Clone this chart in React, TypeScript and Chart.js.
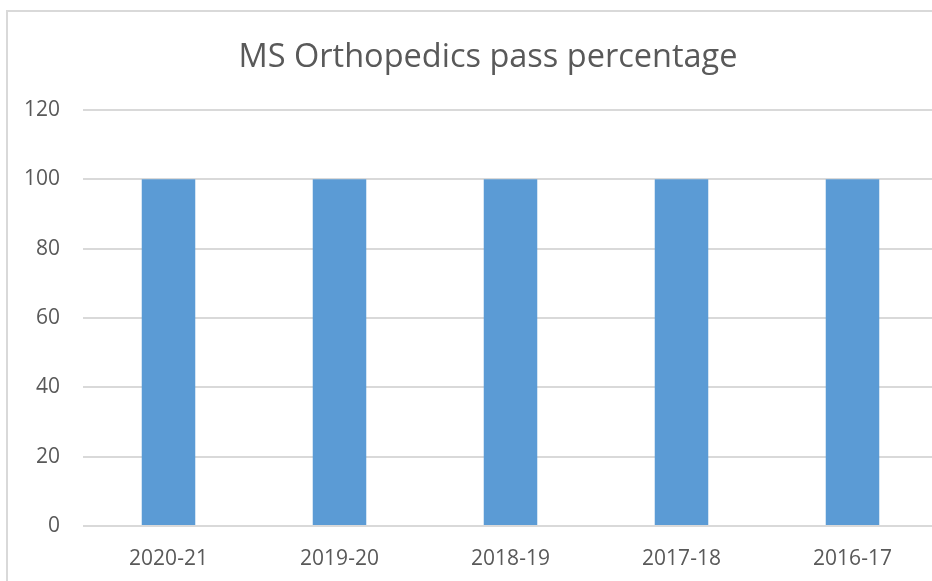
import React, { useEffect, useRef } from "react";
import { Chart, registerables } from "chart.js";

Chart.register(...registerables);

const categories: string[] = ["2020-21", "2019-20", "2018-19", "2017-18", "2016-17"];
const passPercentage: number[] = [100, 100, 100, 100, 100];
const yTickMin = 0;
const yTickMax = 120;
const yTickStep = 20;
const chartTitle = "MS Orthopedics pass percentage";

const CANVAS_W = 960;
const CANVAS_H = 620;
const PLOT_BOTTOM = 514;
const Y_AXIS_W = 75;
const RIGHT_GAP = 30;

export default function App() {
  const ref = useRef<HTMLCanvasElement | null>(null);

  useEffect(() => {
    if (!ref.current) return;
    const font = "'Open Sans', sans-serif";
    const chart = new Chart(ref.current, {
      type: "bar",
      data: {
        labels: categories,
        datasets: [
          {
            label: "Pass percentage",
            data: passPercentage,
            backgroundColor: "#5B9BD5",
            borderWidth: 0,
            categoryPercentage: 1,
            barPercentage: 0.313,
          },
        ],
      },
      options: {
        animation: false,
        responsive: false,
        maintainAspectRatio: false,
        layout: { padding: 0 },
        plugins: {
          legend: { display: false },
          tooltip: { enabled: false },
          title: {
            display: true,
            text: chartTitle,
            color: "#595959",
            font: { family: font, size: 32.5, weight: "normal", lineHeight: 1.2 },
            padding: { top: 26, bottom: 33 },
          },
        },
        scales: {
          x: {
            grid: { display: false, drawTicks: false },
            border: { display: false },
            ticks: {
              color: "#595959",
              font: { family: font, size: 21 },
              padding: 20,
              maxRotation: 0,
            },
            afterFit: (scale: any) => {
              scale.height = CANVAS_H - PLOT_BOTTOM;
            },
          },
          y: {
            min: yTickMin,
            max: yTickMax,
            grid: { color: "#d9d9d9", lineWidth: 2, drawTicks: false },
            border: { display: false },
            ticks: {
              stepSize: yTickStep,
              color: "#595959",
              font: { family: font, size: 21 },
              padding: 23,
            },
            afterFit: (scale: any) => {
              scale.width = Y_AXIS_W;
            },
          },
          yRight: {
            position: "right",
            min: yTickMin,
            max: yTickMax,
            grid: { display: false, drawTicks: false },
            border: { display: false },
            ticks: { display: false },
            afterFit: (scale: any) => {
              scale.width = RIGHT_GAP;
            },
          },
        },
      },
    });
    return () => chart.destroy();
  }, []);

  return (
    <div
      style={{
        position: "fixed",
        left: 0,
        top: 0,
        width: 932,
        height: 581,
        overflow: "hidden",
        background: "#ffffff",
      }}
    >
      <div
        style={{
          position: "absolute",
          left: 6,
          top: 10,
          width: CANVAS_W + 2,
          height: CANVAS_H,
          border: "2px solid #d9d9d9",
          background: "#ffffff",
        }}
      >
        <canvas
          ref={ref}
          width={CANVAS_W}
          height={CANVAS_H}
          style={{ display: "block", width: CANVAS_W, height: CANVAS_H }}
        />
      </div>
    </div>
  );
}
